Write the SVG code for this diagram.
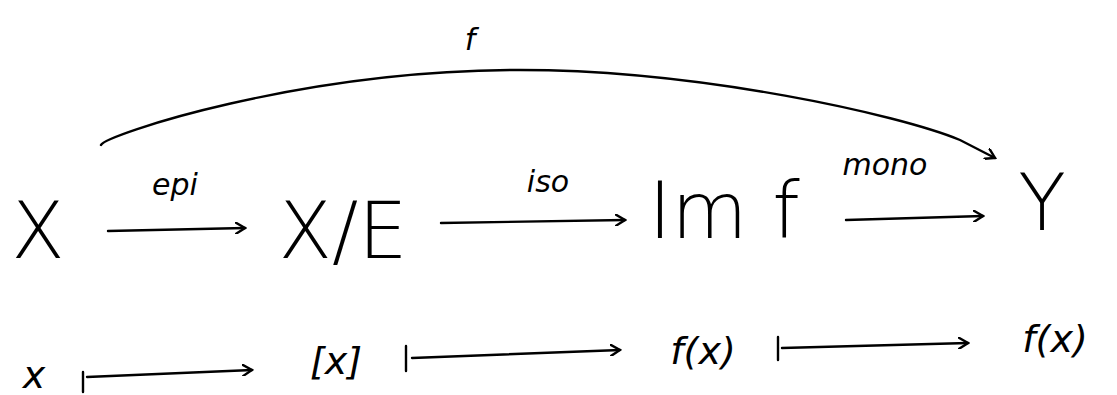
<svg xmlns="http://www.w3.org/2000/svg" width="1117" height="395" viewBox="0 0 1117 395">
<style>
.t{font-family:"DejaVu Sans","Liberation Sans",sans-serif;fill:#000}
.big{font-size:78px;font-weight:300}
.lbl{font-size:30px;font-style:italic}
.sm{font-size:38px;font-style:italic}
.c{fill:none;stroke:#000;stroke-width:2.4;stroke-linecap:round}
</style>
<defs>
<marker id="ah" viewBox="0 0 12 12" refX="10" refY="6" markerWidth="12" markerHeight="12" markerUnits="userSpaceOnUse" orient="auto">
<polyline points="1,0.5 10,6 1,11.5" fill="none" stroke="#000" stroke-width="2.4" stroke-linecap="round"/>
</marker>
</defs>
<rect width="1117" height="395" fill="#fff"/>
<g id="connectors">
<path class="c" d="M108,231 L245,228" marker-end="url(#ah)"/>
<path class="c" d="M441,223 L625,220" marker-end="url(#ah)"/>
<path class="c" d="M846,220 L983,216" marker-end="url(#ah)"/>
<path class="c" d="M101,145 C105,135 300,70 520,70 C700,70 900,115 960,140 L995,158" marker-end="url(#ah)"/>
<path class="c" d="M83,372 L83,392 M87,377 L252,370" marker-end="url(#ah)"/>
<path class="c" d="M406,346 L406,371 M412,358 L620,350" marker-end="url(#ah)"/>
<path class="c" d="M778,337 L778,360 M782,348 L968,343" marker-end="url(#ah)"/>
</g>
<g id="lbl-f"><text class="t lbl" x="470" y="50" text-anchor="middle" font-size="44">f</text></g>
<g id="lbl-epi"><text class="t lbl" x="175" y="195" text-anchor="middle">epi</text></g>
<g id="lbl-iso"><text class="t lbl" x="548" y="192" text-anchor="middle">iso</text></g>
<g id="lbl-mono"><text class="t lbl" x="885" y="175" text-anchor="middle">mono</text></g>
<g id="node-X"><text class="t big" x="38" y="258" text-anchor="middle">X</text></g>
<g id="node-XE"><text class="t big" x="343" y="258" text-anchor="middle">X/E</text></g>
<g id="node-Imf"><text class="t big" x="724" y="238" text-anchor="middle" font-size="70">Im f</text></g>
<g id="node-Y"><text class="t big" x="1042" y="230" text-anchor="middle" font-size="70">Y</text></g>
<g id="node-x"><text class="t sm" x="34" y="388" text-anchor="middle">x</text></g>
<g id="node-cls"><text class="t sm" x="336" y="374" text-anchor="middle">[x]</text></g>
<g id="node-fx1"><text class="t sm" x="703" y="364" text-anchor="middle">f(x)</text></g>
<g id="node-fx2"><text class="t sm" x="1055" y="352" text-anchor="middle">f(x)</text></g>
</svg>
